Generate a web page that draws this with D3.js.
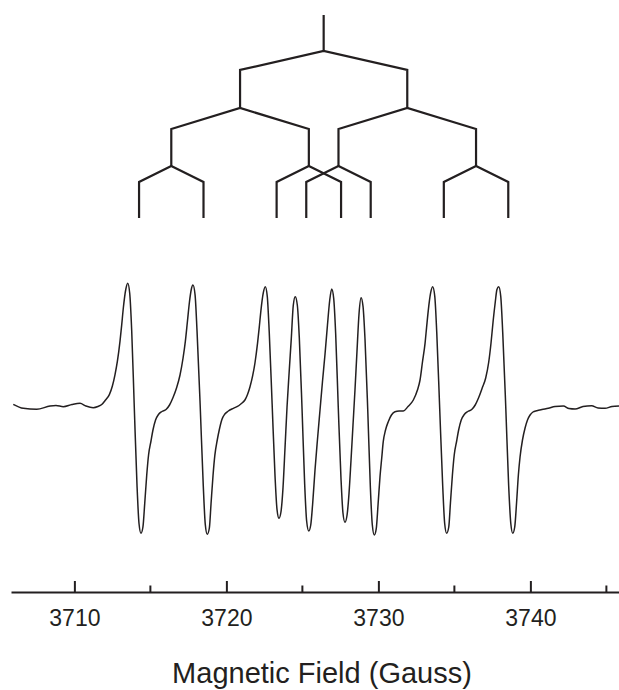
<!DOCTYPE html>
<meta charset="utf-8">
<title>EPR spectrum with hyperfine splitting tree</title>
<script src="https://d3js.org/d3.v7.min.js"></script>
<style>
  body { margin: 0; background: #fff; }
  text { font-family: "Liberation Sans", Arial, Helvetica, sans-serif; fill: #231f20; }
</style>
<body>
<svg width="619" height="690"></svg>
<script>

// Spectrum: field in gauss, first-derivative signal in arbitrary units
var fieldG = [
  3705.98, 3706.64, 3707.52, 3708.40, 3708.79, 3709.27, 3709.84, 3710.37, 3710.76, 3711.24,
  3711.55, 3711.80, 3712.05, 3712.30, 3712.50, 3712.67, 3712.83, 3713.00, 3713.11, 3713.22,
  3713.38, 3713.51, 3713.64, 3713.77, 3713.94, 3714.12, 3714.25, 3714.38, 3714.51, 3714.63,
  3714.76, 3714.88, 3715.04, 3715.17, 3715.34, 3715.53, 3715.76, 3716.03, 3716.26, 3716.49,
  3716.72, 3716.95, 3717.15, 3717.30, 3717.44, 3717.57, 3717.69, 3717.80, 3717.94, 3718.07,
  3718.28, 3718.48, 3718.61, 3718.74, 3718.88, 3718.99, 3719.12, 3719.24, 3719.40, 3719.53,
  3719.70, 3719.90, 3720.13, 3720.46, 3720.83, 3721.03, 3721.22, 3721.39, 3721.55, 3721.73,
  3721.88, 3722.05, 3722.16, 3722.27, 3722.43, 3722.56, 3722.69, 3722.82, 3723.01, 3723.20,
  3723.33, 3723.46, 3723.59, 3723.72, 3723.86, 3723.99, 3724.13, 3724.27, 3724.40, 3724.53,
  3724.67, 3724.80, 3724.98, 3725.15, 3725.28, 3725.42, 3725.55, 3725.67, 3725.83, 3725.99,
  3726.16, 3726.32, 3726.49, 3726.65, 3726.80, 3726.93, 3727.06, 3727.19, 3727.36, 3727.54,
  3727.67, 3727.80, 3727.94, 3728.07, 3728.20, 3728.33, 3728.46, 3728.59, 3728.73, 3728.86,
  3728.99, 3729.12, 3729.30, 3729.47, 3729.60, 3729.73, 3729.86, 3729.98, 3730.11, 3730.22,
  3730.32, 3730.47, 3730.65, 3730.86, 3731.09, 3731.36, 3731.64, 3731.95, 3732.30, 3732.57,
  3732.74, 3732.90, 3733.07, 3733.17, 3733.28, 3733.44, 3733.57, 3733.71, 3733.84, 3734.03,
  3734.23, 3734.36, 3734.49, 3734.63, 3734.74, 3734.87, 3734.99, 3735.15, 3735.28, 3735.45,
  3735.65, 3735.88, 3736.14, 3736.37, 3736.60, 3736.83, 3737.06, 3737.26, 3737.41, 3737.55,
  3737.69, 3737.80, 3737.92, 3738.05, 3738.18, 3738.38, 3738.57, 3738.71, 3738.84, 3738.97,
  3739.09, 3739.21, 3739.32, 3739.48, 3739.65, 3739.81, 3739.98, 3740.17, 3740.42, 3740.76,
  3741.18, 3741.62, 3742.17, 3742.54, 3742.94, 3743.46, 3744.03, 3744.45, 3744.91, 3745.37,
  3745.83
];
var signal = [
  2.7, -1.3, -2.3, 1.0, 1.5, 0.3, 2.5, 3.7, 1.0, -0.7,
  0.5, 2.5, 7.0, 12.4, 21.0, 32.2, 45.8, 65.6, 81.6, 99.0,
  117.5, 123.7, 113.8, 76.7, 0.0, -78.3, -116.2, -126.3, -120.0, -96.0,
  -68.0, -48.0, -34.0, -23.0, -13.0, -7.5, -4.5, -2.5, 2.0, 9.5,
  19.0, 32.0, 49.0, 65.6, 86.0, 105.0, 117.5, 122.0, 112.2, 75.6,
  0.0, -78.9, -117.1, -127.3, -121.0, -96.7, -68.7, -48.4, -33.0, -23.0,
  -12.7, -7.0, -4.0, -1.3, 1.5, 4.0, 7.0, 12.5, 20.0, 31.3,
  44.0, 63.8, 79.4, 96.2, 114.3, 120.3, 110.7, 74.6, 3.0, -69.0,
  -102.4, -111.3, -105.0, -82.0, -40.0, 0.0, 35.0, 68.4, 101.5, 110.3,
  101.5, 68.4, -3.0, -76.9, -114.0, -124.0, -118.0, -98.0, -63.0, -33.0,
  -3.0, 25.0, 53.0, 82.0, 107.0, 118.0, 108.6, 73.2, 0.0, -71.5,
  -106.0, -115.3, -108.0, -86.0, -53.0, -18.0, 17.0, 55.0, 94.0, 109.3,
  100.6, 67.8, -3.0, -79.4, -117.8, -128.0, -121.6, -97.3, -69.0, -51.0,
  -34.7, -23.0, -14.7, -8.0, -4.7, -4.0, -4.0, 0.5, 7.0, 17.0,
  27.0, 45.0, 63.7, 79.4, 96.2, 114.3, 120.3, 110.7, 74.6, 0.0,
  -78.3, -116.2, -126.3, -120.0, -96.0, -68.0, -48.0, -34.0, -23.0, -13.0,
  -7.5, -4.5, -2.5, 2.0, 9.5, 19.0, 29.0, 45.0, 64.0, 86.0,
  105.0, 117.5, 120.3, 110.7, 74.6, 0.0, -78.3, -116.2, -126.3, -120.0,
  -96.0, -68.0, -50.0, -33.0, -21.0, -13.0, -8.0, -5.0, -3.7, -2.5,
  -1.3, 0.5, 1.0, -1.5, -2.0, 0.5, 1.3, -1.0, -1.3, 0.5,
  1.0
];

// Splitting pattern: centre field and three coupling constants (gauss)
var treeCentre = 3726.4;
var couplings = [11.0, 9.05, 4.24];

var majorTicks = [3710, 3720, 3730, 3740];
var minorTicks = [3715, 3725, 3735, 3745];
var axisTitle = "Magnetic Field (Gauss)";

var ink = "#231f20";
var svg = d3.select("svg");

var x = d3.scaleLinear().domain([3705.83, 3745.83]).range([11, 619]);
var y = d3.scaleLinear().domain([-125, 125]).range([532, 282]);

// spectrum trace
var pts = fieldG.map(function(f, i) { return [f, signal[i]]; });
var line = d3.line()
    .x(function(d) { return x(d[0]); })
    .y(function(d) { return y(d[1]); })
    .curve(d3.curveMonotoneX);

svg.append("path")
    .datum(pts)
    .attr("d", line)
    .attr("fill", "none")
    .attr("stroke", ink)
    .attr("stroke-width", 1.5)
    .attr("stroke-linejoin", "round");

// splitting tree; rows = [node y, branch end y, next node y]
var rows = [[51, 70, 108], [108, 129, 166], [166, 182, 218]];
var gTree = svg.append("g")
    .attr("fill", "none")
    .attr("stroke", ink)
    .attr("stroke-width", 2.2)
    .attr("stroke-linejoin", "miter");

gTree.append("line")
    .attr("x1", x(treeCentre)).attr("x2", x(treeCentre))
    .attr("y1", 15).attr("y2", rows[0][0]);

var nodes = [treeCentre];
couplings.forEach(function(a, k) {
  var r = rows[k];
  var next = [];
  nodes.forEach(function(n) {
    var l = n - a / 2, h = n + a / 2;
    gTree.append("path").attr("d",
      "M" + x(l) + "," + r[2] + "L" + x(l) + "," + r[1] +
      "L" + x(n) + "," + r[0] +
      "L" + x(h) + "," + r[1] + "L" + x(h) + "," + r[2]);
    next.push(l, h);
  });
  nodes = next;
});

// axis
var axisY = 592;
var gAxis = svg.append("g")
    .attr("transform", "translate(0," + axisY + ")")
    .call(d3.axisBottom(x).tickValues(majorTicks).tickSize(-11).tickSizeOuter(0).tickFormat(d3.format("d")));

gAxis.select(".domain").attr("stroke", ink).attr("stroke-width", 2);
gAxis.selectAll(".tick line").attr("stroke", ink).attr("stroke-width", 2);
gAxis.selectAll(".tick text")
    .attr("y", 34)
    .attr("dy", 0)
    .attr("fill", ink)
    .style("font-size", "23px")
    .style("font-family", "'Liberation Sans', Arial, sans-serif");

svg.append("g")
    .attr("transform", "translate(0," + axisY + ")")
    .selectAll("line")
    .data(minorTicks)
    .enter().append("line")
      .attr("x1", function(d) { return x(d); })
      .attr("x2", function(d) { return x(d); })
      .attr("y1", -6.5)
      .attr("y2", 0)
      .attr("stroke", ink)
      .attr("stroke-width", 2);

svg.append("text")
    .attr("x", 322)
    .attr("y", 683)
    .attr("text-anchor", "middle")
    .style("font-size", "29px")
    .text(axisTitle);

</script>
</body>
